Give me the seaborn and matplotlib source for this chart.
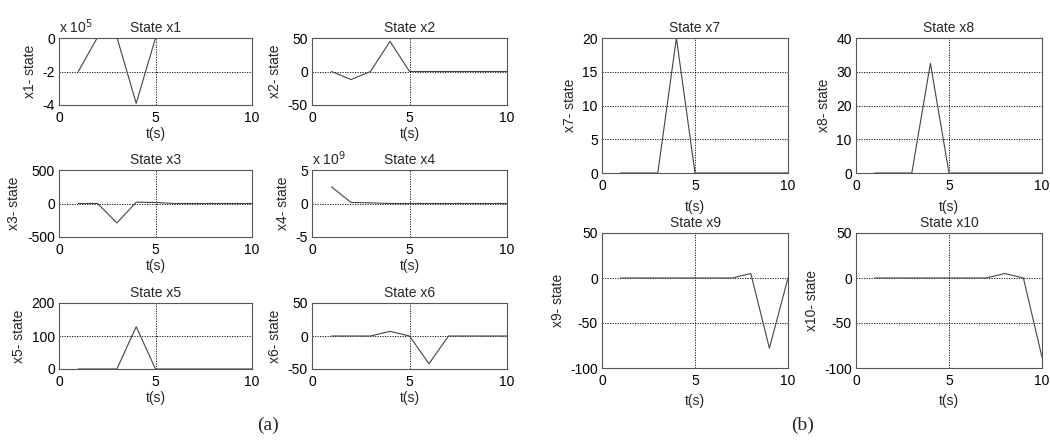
import numpy as np
import pandas as pd
import seaborn as sns
import matplotlib.pyplot as plt

# time samples (s)
t = [1, 2, 3, 4, 5, 6, 7, 8, 9, 10]

# state trajectories
x1 = [-2.0e5, 0.05e5, 0.05e5, -3.9e5, 0.0, 0.0, 0.0, 0.0, 0.0, 0.0]
x2 = [0, -12, 0, 45, 0, 0, 0, 0, 0, 0]
x3 = [0, 0, -290, 20, 15, 0, 0, 0, 0, 0]
x4 = [2.5e9, 0.15e9, 0.1e9, 0.0, 0.0, 0.0, 0.0, 0.0, 0.0, 0.0]
x5 = [0, 0, 0, 128, 0, 0, 0, 0, 0, 0]
x6 = [0, 0, 0, 7, 0, -42, 0, 0, 0, 0]
x7 = [0, 0, 0, 20, 0, 0, 0, 0, 0, 0]
x8 = [0, 0, 0, 32.5, 0, 0, 0, 0, 0, 0]
x9 = [0, 0, 0, 0, 0, 0, 0, 5, -78, 0]
x10 = [0, 0, 0, 0, 0, 0, 0, 5, 0, -88]

states = [x1, x2, x3, x4, x5, x6, x7, x8, x9, x10]
names = ["x1", "x2", "x3", "x4", "x5", "x6", "x7", "x8", "x9", "x10"]
yticks = [[-4, -2, 0], [-50, 0, 50], [-500, 0, 500], [-5, 0, 5], [0, 100, 200],
          [-50, 0, 50], [0, 5, 10, 15, 20], [0, 10, 20, 30, 40],
          [-100, -50, 0, 50], [-100, -50, 0, 50]]
scales = [1e5, 1, 1, 1e9, 1, 1, 1, 1, 1, 1]
exps = {0: "5", 3: "9"}

# axes boxes in pixels: left, right, top, bottom
boxes = [(59, 252, 38, 105), (312, 507, 38, 105),
         (59, 252, 170, 237), (312, 507, 170, 237),
         (59, 252, 303, 369), (312, 507, 303, 369),
         (602, 788, 38, 173), (856, 1042, 38, 173),
         (602, 788, 233, 368), (856, 1042, 233, 368)]

sns.set_theme(style="white")
plt.rcParams['font.family'] = ['Liberation Sans', 'DejaVu Sans']
plt.rcParams['axes.unicode_minus'] = False

W, H = 1050, 441
fig = plt.figure(figsize=(W / 100, H / 100), dpi=100)

for i, (vals, name) in enumerate(zip(states, names)):
    l, r, tp, b = boxes[i]
    ax = fig.add_axes([l / W, 1 - b / H, (r - l) / W, (b - tp) / H])
    fs = 10
    df = pd.DataFrame({"t": t, "v": np.array(vals) / scales[i]})
    sns.lineplot(data=df, x="t", y="v", ax=ax, color="#444444", lw=0.8,
                 estimator=None)
    yt = yticks[i]
    ax.set_xlim(0, 10)
    ax.set_ylim(yt[0], yt[-1])
    ax.set_xticks([0, 5, 10])
    ax.set_yticks(yt)
    ax.grid(True, color="black", linestyle=(0, (1.5, 1.5)), lw=0.6)
    ax.tick_params(direction="in", length=2, labelsize=fs, colors="black")
    ax.tick_params(axis="x", pad=4)
    ax.tick_params(axis="y", pad=3)
    for s in ax.spines.values():
        s.set_color("#555555")
        s.set_linewidth(0.8)
    ax.set_title("State " + name, fontsize=fs, pad=4)
    ax.set_ylabel(name + "- state", fontsize=fs, labelpad=4)
    ax.set_xlabel("t(s)", fontsize=fs, labelpad=2 if i < 6 else 5)
    if i in exps:
        ax.text(0.0, 1.03, r"x 10$^{%s}$" % exps[i], transform=ax.transAxes,
                fontsize=fs, ha="left", va="bottom")

fig.text(268 / W, 1 - 425 / H, "(a)", family="Liberation Serif", fontsize=14,
         ha="center", va="center")
fig.text(803 / W, 1 - 425 / H, "(b)", family="Liberation Serif", fontsize=14,
         ha="center", va="center")

fig.savefig("out.png", dpi=100)
